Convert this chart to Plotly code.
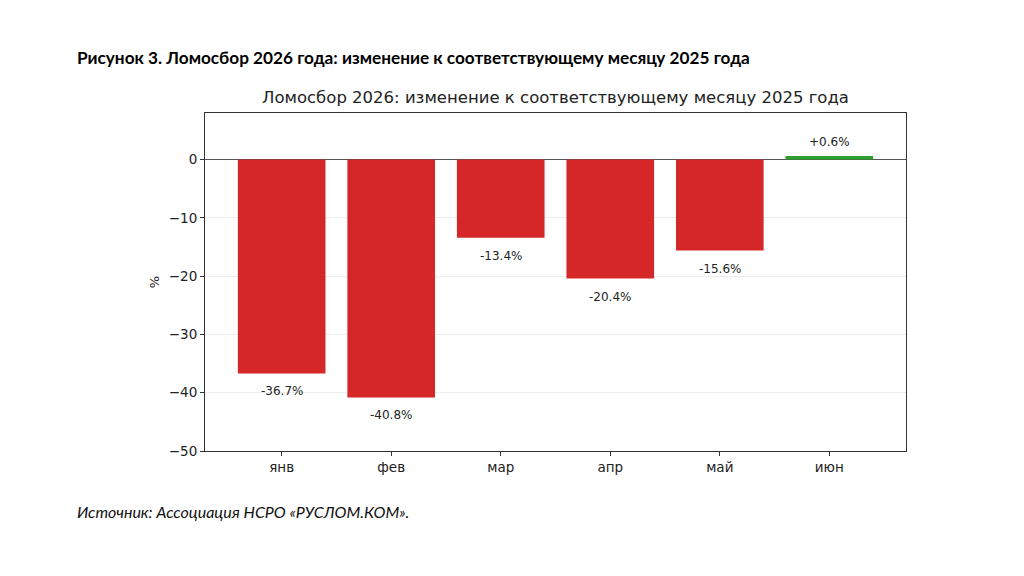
import plotly.graph_objects as go

months = ["янв", "фев", "мар", "апр", "май", "июн"]
changes = [-36.7, -40.8, -13.4, -20.4, -15.6, 0.6]
labels = ["-36.7%", "-40.8%", "-13.4%", "-20.4%", "-15.6%", "+0.6%"]
y_ticks = [0, -10, -20, -30, -40, -50]
y_ticklabels = ["0", "\u221210", "\u221220", "\u221230", "\u221240", "\u221250"]

colors = ["#d62728" if v < 0 else "#2ca02c" for v in changes]

fig = go.Figure()
fig.add_trace(go.Bar(
    x=list(range(len(months))), y=changes, width=0.8,
    marker=dict(color=colors, line=dict(width=0)),
    hoverinfo="skip",
))

for i, (v, t) in enumerate(zip(changes, labels)):
    fig.add_annotation(
        x=i, y=v, text=t, showarrow=False,
        yanchor="top" if v < 0 else "bottom",
        yshift=-9 if v < 0 else 5,
        font=dict(family="DejaVu Sans", size=12, color="#222"),
    )

fig.add_annotation(
    xref="paper", yref="paper", x=0.5, y=1.0, yshift=4,
    text="Ломосбор 2026: изменение к соответствующему месяцу 2025 года",
    showarrow=False, yanchor="bottom", xanchor="center",
    font=dict(family="DejaVu Sans", size=16.5, color="#222"),
)
fig.add_annotation(
    xref="paper", yref="paper", x=-0.1855, y=1.0, yshift=43,
    text="<b>Рисунок 3. Ломосбор 2026 года: изменение к соответствующему месяцу 2025 года</b>",
    showarrow=False, yanchor="bottom", xanchor="left",
    font=dict(family="Lato", size=17.2, color="#000"),
)
fig.add_annotation(
    xref="paper", yref="paper", x=-0.1855, y=0, yshift=-49,
    text="<i>Источник: Ассоциация НСРО «РУСЛОМ.КОМ».</i>",
    showarrow=False, yanchor="top", xanchor="left",
    font=dict(family="Lato", size=16, color="#111"),
)

fig.update_layout(
    width=1024, height=576,
    margin=dict(l=205, r=118, t=113, b=125),
    plot_bgcolor="white", paper_bgcolor="white",
    showlegend=False,
    xaxis=dict(
        range=[-0.7, 5.7], tickmode="array",
        tickvals=list(range(len(months))), ticktext=months,
        ticks="outside", ticklen=4, tickcolor="#333",
        showline=True, linecolor="#333", linewidth=1, mirror=True,
        showgrid=False, zeroline=False,
        tickfont=dict(family="DejaVu Sans", size=13.5, color="#222"),
    ),
    yaxis=dict(
        range=[-50, 8], tickmode="array",
        tickvals=y_ticks, ticktext=y_ticklabels,
        ticks="outside", ticklen=4, tickcolor="#333",
        showline=True, linecolor="#333", linewidth=1, mirror=True,
        showgrid=True, gridcolor="#ececec", gridwidth=1,
        zeroline=True, zerolinecolor="#555", zerolinewidth=1.2,
        tickfont=dict(family="DejaVu Sans", size=13.5, color="#222"),
        title=dict(text="%", font=dict(family="DejaVu Sans", size=13, color="#222"), standoff=6),
    ),
)

fig.write_html("out.html")
